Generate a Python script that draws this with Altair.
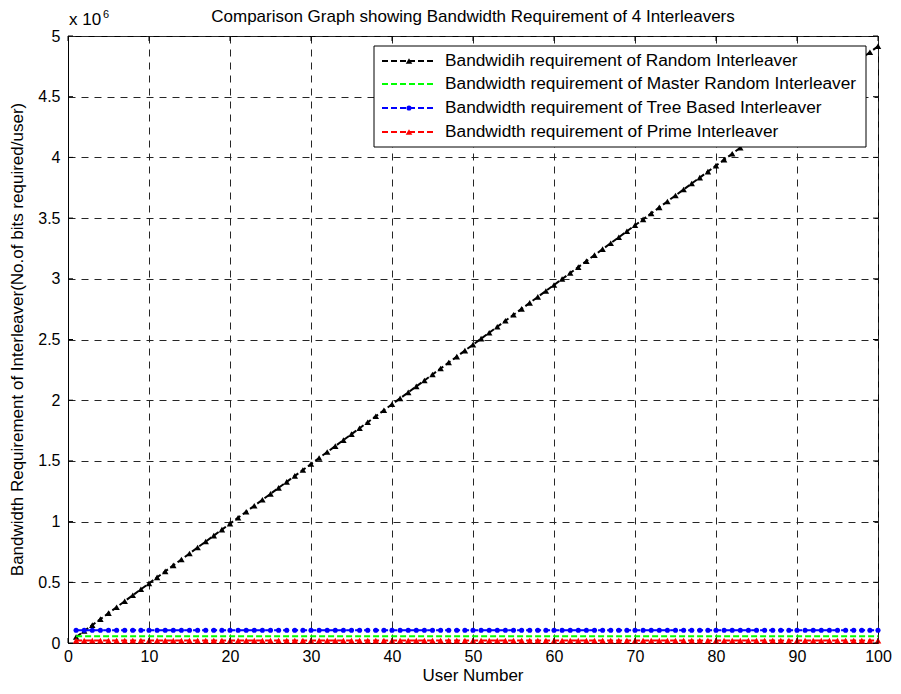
import altair as alt
import pandas as pd

FONT = "Liberation Sans"

users = list(range(1, 101))
random_bw = [
    49152, 98304, 147456, 196608, 245760, 294912, 344064, 393216, 442368, 491520,
    540672, 589824, 638976, 688128, 737280, 786432, 835584, 884736, 933888, 983040,
    1032192, 1081344, 1130496, 1179648, 1228800, 1277952, 1327104, 1376256, 1425408, 1474560,
    1523712, 1572864, 1622016, 1671168, 1720320, 1769472, 1818624, 1867776, 1916928, 1966080,
    2015232, 2064384, 2113536, 2162688, 2211840, 2260992, 2310144, 2359296, 2408448, 2457600,
    2506752, 2555904, 2605056, 2654208, 2703360, 2752512, 2801664, 2850816, 2899968, 2949120,
    2998272, 3047424, 3096576, 3145728, 3194880, 3244032, 3293184, 3342336, 3391488, 3440640,
    3489792, 3538944, 3588096, 3637248, 3686400, 3735552, 3784704, 3833856, 3883008, 3932160,
    3981312, 4030464, 4079616, 4128768, 4177920, 4227072, 4276224, 4325376, 4374528, 4423680,
    4472832, 4521984, 4571136, 4620288, 4669440, 4718592, 4767744, 4816896, 4866048, 4915200,
]
master_bw = [55000] * 100
tree_bw = [105000] * 100
prime_bw = [20000] * 100

series_names = [
    "Bandwidih requirement of Random Interleaver",
    "Bandwidth requirement of Master Random Interleaver",
    "Bandwidth requirement of Tree Based Interleaver",
    "Bandwidth requirement of Prime Interleaver",
]
series_values = [random_bw, master_bw, tree_bw, prime_bw]
series_colors = ["#000000", "#00ff00", "#0000ff", "#ff0000"]
series_shapes = ["triangle-up", None, "circle", "triangle-up"]
series_sizes = [42, 0, 26, 44]

x_ticks = [0, 10, 20, 30, 40, 50, 60, 70, 80, 90, 100]
y_ticks = [0, 500000, 1000000, 1500000, 2000000, 2500000, 3000000, 3500000,
           4000000, 4500000, 5000000]

title_text = "Comparison Graph showing Bandwidth Requirement of 4 Interleavers"
x_title = "User Number"
y_title = "Bandwidth Requirement of Interleaver(No.of bits required/user)"

W, H = 810, 607
DASH = [6, 3]

xscale = alt.Scale(domain=[0, 100], nice=False, zero=False)
yscale = alt.Scale(domain=[0, 5000000], nice=False)

x_axis = alt.Axis(values=x_ticks, grid=True, gridDash=[7, 6], gridColor="#262626",
                  gridWidth=1, ticks=False, domainColor="black", labelFont=FONT,
                  labelFontSize=16, labelColor="black", labelPadding=5,
                  labelFlush=False, labelOverlap=False, labelBound=False, title=None)
y_axis = alt.Axis(values=y_ticks, grid=True, gridDash=[7, 6], gridColor="#262626",
                  gridWidth=1, ticks=False, domainColor="black", labelFont=FONT,
                  labelFontSize=16, labelColor="black", labelPadding=8,
                  labelExpr="datum.value / 1000000", labelOverlap=False, title=None)

layers = []
for i, (name, vals) in enumerate(zip(series_names, series_values)):
    df = pd.DataFrame({"user": users, "bw": vals})
    enc = dict(x=alt.X("user:Q", scale=xscale, axis=x_axis),
               y=alt.Y("bw:Q", scale=yscale, axis=y_axis))
    layers.append(alt.Chart(df).mark_line(color=series_colors[i], strokeDash=DASH,
                                          strokeWidth=2).encode(**enc))
    if series_shapes[i]:
        layers.append(alt.Chart(df).mark_point(shape=series_shapes[i], filled=True,
                                               size=series_sizes[i], opacity=1,
                                               color=series_colors[i]).encode(**enc))

# inward ticks (MATLAB style box ticks)
xt = pd.DataFrame({"t": x_ticks})
yt = pd.DataFrame({"t": y_ticks})
tick_style = dict(color="black", strokeWidth=1)
layers.append(alt.Chart(xt).mark_rule(**tick_style).encode(
    x=alt.X("t:Q", scale=xscale, axis=x_axis), y=alt.value(H), y2=alt.value(H - 5)))
layers.append(alt.Chart(xt).mark_rule(**tick_style).encode(
    x=alt.X("t:Q", scale=xscale, axis=x_axis), y=alt.value(0), y2=alt.value(5)))
layers.append(alt.Chart(yt).mark_rule(**tick_style).encode(
    y=alt.Y("t:Q", scale=yscale, axis=y_axis), x=alt.value(0), x2=alt.value(5)))
layers.append(alt.Chart(yt).mark_rule(**tick_style).encode(
    y=alt.Y("t:Q", scale=yscale, axis=y_axis), x=alt.value(W), x2=alt.value(W - 5)))

one = pd.DataFrame({"a": [0]})

# legend box
LX = W - 12 - 492
layers.append(alt.Chart(one).mark_rect(fill="white", stroke="black", strokeWidth=1).encode(
    x=alt.value(LX), x2=alt.value(W - 12), y=alt.value(10), y2=alt.value(111)))
row_y = [25, 48, 72, 96]
for i, name in enumerate(series_names):
    layers.append(alt.Chart(one).mark_rule(color=series_colors[i], strokeDash=DASH,
                                           strokeWidth=2).encode(
        x=alt.value(LX + 8), x2=alt.value(LX + 62), y=alt.value(row_y[i])))
    if series_shapes[i]:
        layers.append(alt.Chart(one).mark_point(shape=series_shapes[i], filled=True,
                                                size=series_sizes[i], opacity=1,
                                                color=series_colors[i]).encode(
            x=alt.value(LX + 35), y=alt.value(row_y[i])))
    layers.append(alt.Chart(one).mark_text(align="left", baseline="middle", font=FONT,
                                           fontSize=17.3, color="black").encode(
        x=alt.value(LX + 71), y=alt.value(row_y[i]), text=alt.value(name)))

# titles
layers.append(alt.Chart(one).mark_text(align="center", baseline="alphabetic", font=FONT,
                                       fontSize=17, color="black").encode(
    x=alt.value(W / 2), y=alt.value(-14), text=alt.value(title_text)))
layers.append(alt.Chart(one).mark_text(align="center", baseline="alphabetic", font=FONT,
                                       fontSize=17, color="black").encode(
    x=alt.value(W / 2), y=alt.value(H + 38), text=alt.value(x_title)))
layers.append(alt.Chart(one).mark_text(align="center", baseline="alphabetic", font=FONT,
                                       fontSize=17, color="black", angle=270).encode(
    x=alt.value(-45), y=alt.value(H / 2), text=alt.value(y_title)))
# exponent
layers.append(alt.Chart(one).mark_text(align="left", baseline="alphabetic", font=FONT,
                                       fontSize=17, color="black").encode(
    x=alt.value(1), y=alt.value(-11), text=alt.value("x 10")))
layers.append(alt.Chart(one).mark_text(align="left", baseline="alphabetic", font=FONT,
                                       fontSize=11, color="black").encode(
    x=alt.value(35), y=alt.value(-18), text=alt.value("6")))

chart = alt.layer(*layers).properties(
    width=W, height=H,
    autosize=alt.AutoSizeParams(type="none"),
    padding={"left": 60, "top": 28, "right": 14, "bottom": 43},
    background="white",
).configure_view(stroke="black", strokeWidth=1)

chart.save("out.html", embed_options={"renderer": "svg", "actions": False})
